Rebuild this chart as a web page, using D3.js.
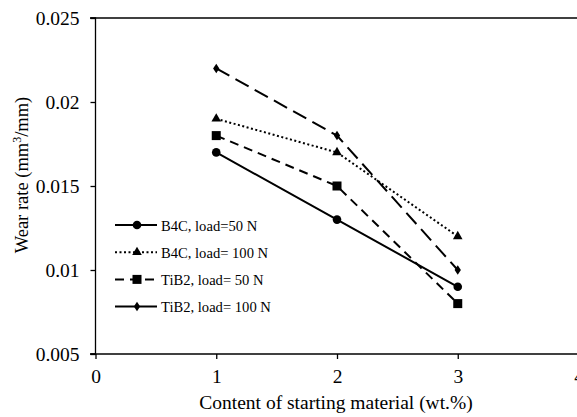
<!DOCTYPE html>
<html><head><meta charset="utf-8">
<script src="https://cdn.jsdelivr.net/npm/d3@7"></script>
<style>body{margin:0;background:#fff}svg{display:block}svg text{font-family:"Liberation Serif","Times New Roman",serif !important;fill:#000}</style>
</head><body><svg id="c" width="577" height="417"></svg>
<script>
const xValues = [1, 2, 3];
const b4c50 = [0.017, 0.013, 0.009];
const b4c100 = [0.019, 0.017, 0.012];
const tib50 = [0.018, 0.015, 0.008];
const tib100 = [0.022, 0.018, 0.010];
const seriesNames = ["B4C, load=50 N", "B4C, load= 100 N", "TiB2, load= 50 N", "TiB2, load= 100 N"];
const xTicks = [0, 1, 2, 3, 4];
const yTicks = [0.005, 0.01, 0.015, 0.02, 0.025];

const svg = d3.select("#c");
const x = d3.scaleLinear().domain([0, 4]).range([95.5, 578.5]);
const y = d3.scaleLinear().domain([0.005, 0.025]).range([354, 18]);

const series = [
  {name: seriesNames[0], vals: b4c50, dash: null, marker: "circle", legendDash: null},
  {name: seriesNames[1], vals: b4c100, dash: "2,2.5", marker: "triangle", legendDash: "2,2.5"},
  {name: seriesNames[2], vals: tib50, dash: "9,6", marker: "square", legendDash: "9,6"},
  {name: seriesNames[3], vals: tib100, dash: "15,7", marker: "diamond", legendDash: null}
];

svg.append("line").attr("x1", 90).attr("x2", 577).attr("y1", y(0.025)).attr("y2", y(0.025))
  .attr("stroke", "#000").attr("stroke-width", 1.3);

const yAxis = svg.append("g").attr("transform", "translate(95.5,0)")
  .call(d3.axisLeft(y).tickValues(yTicks).tickSize(5).tickFormat(d => String(+d.toFixed(3))));
const xAxis = svg.append("g").attr("transform", "translate(0,354)")
  .call(d3.axisBottom(x).tickValues(xTicks).tickSize(5).tickFormat(d3.format("d")));
[yAxis, xAxis].forEach(a => {
  a.attr("font-family", null).attr("font-size", null);
  a.select(".domain").attr("stroke", "#000").attr("stroke-width", 1.3);
  a.selectAll(".tick line").attr("stroke", "#000").attr("stroke-width", 1.3);
  a.selectAll("text").style("font-size", "19.5px").attr("fill", "#000");
});
yAxis.select(".domain").attr("d", "M-5,18H0V354H-5");
yAxis.selectAll(".tick text").attr("x", -16);
xAxis.select(".domain").attr("d", "M90,0H577");
xAxis.selectAll(".tick text").attr("y", 15);

function drawMarker(g, type, cx, cy) {
  if (type === "circle") g.append("circle").attr("cx", cx).attr("cy", cy).attr("r", 4.3);
  else if (type === "square") g.append("rect").attr("x", cx - 4.5).attr("y", cy - 4.5).attr("width", 9).attr("height", 9);
  else if (type === "triangle") g.append("path").attr("d", d3.symbol(d3.symbolTriangle, 40)()).attr("transform", `translate(${cx},${cy})`);
  else g.append("path").attr("d", d3.symbol(d3.symbolDiamond, 26)()).attr("transform", `translate(${cx},${cy}) scale(1.15,1)`);
}

const line = d3.line().x((d, i) => x(xValues[i])).y(d => y(d));
series.forEach(s => {
  svg.append("path").datum(s.vals).attr("d", line).attr("fill", "none").attr("stroke", "#000")
    .attr("stroke-width", 2).attr("stroke-dasharray", s.dash);
  const g = svg.append("g").attr("fill", "#000");
  s.vals.forEach((v, i) => drawMarker(g, s.marker, x(xValues[i]), y(v)));
});

const leg = svg.append("g");
series.forEach((s, i) => {
  const ly = 225 + i * 27.2;
  leg.append("line").attr("x1", 115).attr("x2", 157).attr("y1", ly).attr("y2", ly)
    .attr("stroke", "#000").attr("stroke-width", 2).attr("stroke-dasharray", s.legendDash);
  const g = leg.append("g").attr("fill", "#000");
  drawMarker(g, s.marker, 137, ly);
  leg.append("text").attr("x", 161).attr("y", ly + 5.5).style("font-size", "14.6px").text(s.name);
});

svg.append("text").attr("x", 336).attr("y", 409).attr("text-anchor", "middle").style("font-size", "19.5px")
  .text("Content of starting material (wt.%)");
const yt = svg.append("text").attr("transform", "translate(28,175) rotate(-90)").attr("text-anchor", "middle").style("font-size", "18.5px");
yt.append("tspan").text("Wear rate (mm");
yt.append("tspan").attr("dy", -7).style("font-size", "12px").text("3");
yt.append("tspan").attr("dy", 7).text("/mm)");
</script></body></html>
